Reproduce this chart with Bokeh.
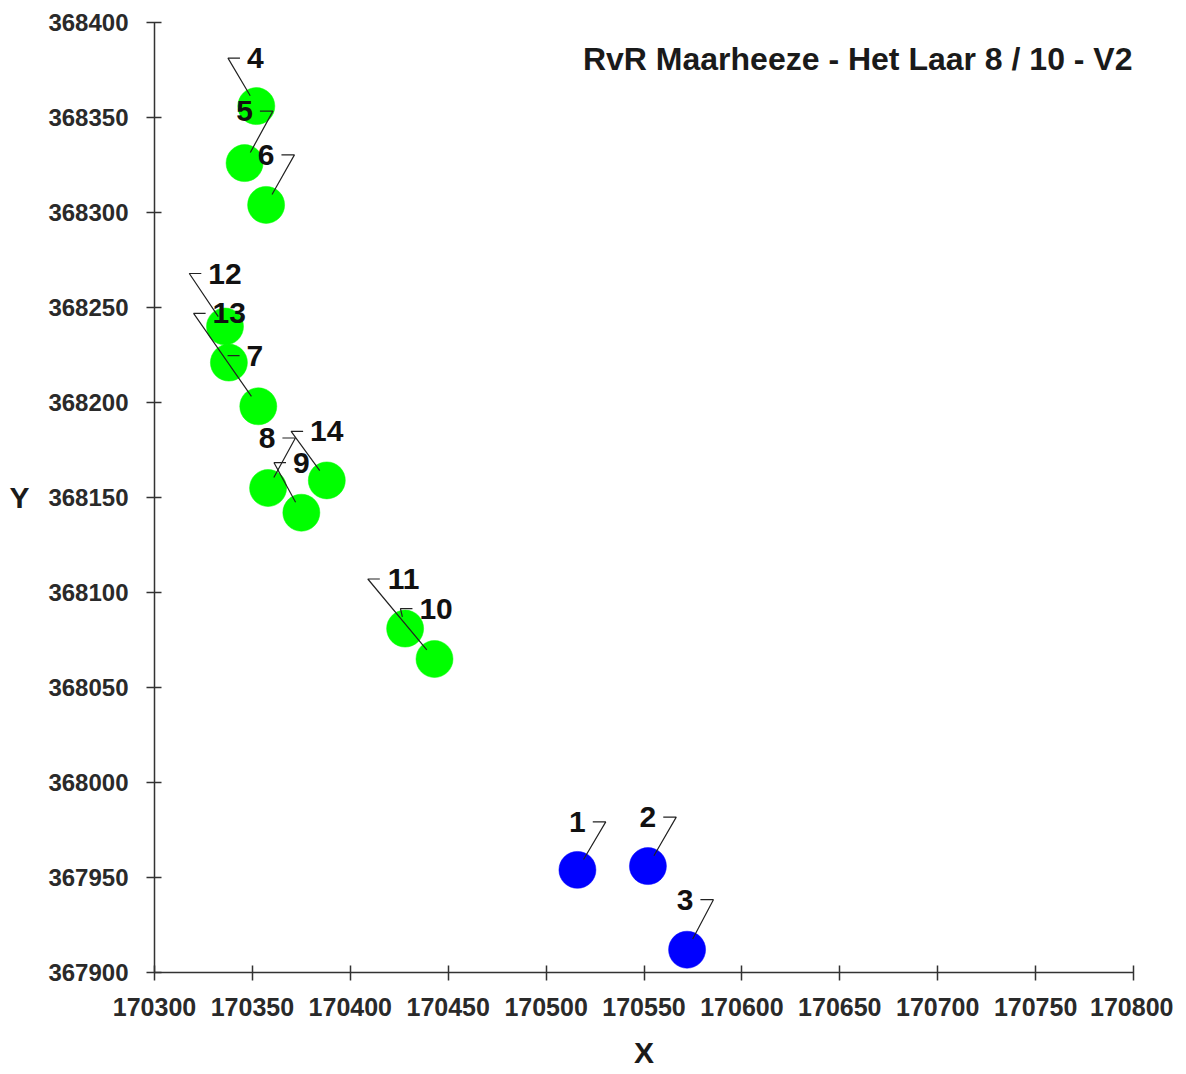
from bokeh.plotting import figure
from bokeh.models import Range1d, FixedTicker, Label, ColumnDataSource
from bokeh.core.properties import value
from bokeh.embed import file_html
from bokeh.resources import INLINE

# ---------------- data ----------------
title_text = "RvR Maarheeze - Het Laar 8 / 10 - V2"
x_axis_title = "X"
y_axis_title = "Y"

point_ids = ["1", "2", "3", "4", "5", "6", "7", "8", "9", "10", "11", "12", "13", "14"]
x_vals = [170516, 170552, 170572, 170352, 170346, 170357, 170338,
          170358, 170375, 170428, 170443, 170336, 170353, 170388]
y_vals = [367954, 367956, 367912, 368356, 368326, 368304, 368221,
          368155, 368142, 368081, 368065, 368240, 368198, 368159]
series = ["blue"] * 3 + ["green"] * 11

x_ticks = [170300, 170350, 170400, 170450, 170500, 170550, 170600, 170650, 170700, 170750, 170800]
y_ticks = [367900, 367950, 368000, 368050, 368100, 368150, 368200, 368250, 368300, 368350, 368400]
x_tick_labels = ["170300", "170350", "170400", "170450", "170500", "170550",
                 "170600", "170650", "170700", "170750", "170800"]
y_tick_labels = ["367900", "367950", "368000", "368050", "368100", "368150",
                 "368200", "368250", "368300", "368350", "368400"]

# ---------------- layout / style ----------------
X0, X1 = 170300, 170800
Y0, Y1 = 367900, 368400
FW, FH = 979, 950
SX = FW / (X1 - X0)
SY = FH / (Y1 - Y0)
BL, BR, BT, BB = 154, 40, 22, 98

series_colors = {"blue": "#0000ff", "green": "#00ff00"}
LABEL_FS = 30
# label placement: screen-pixel offset of text centre from its point, and leader side
label_dx = [0, 0, -2, -1, 0, 0, 26, -1, 0, 31, -31, 0, -29, 0]
label_dy = [-48, -49, -50, -48, -52, -50, -7, -50, -50, -20, -80, -53, -93, -49]
label_side = ["r", "r", "r", "l", "r", "r", "l", "r", "l", "l", "l", "l", "l", "l"]

p = figure(width=BL + FW + BR, height=BT + FH + BB,
           x_range=Range1d(X0, X1), y_range=Range1d(Y0, Y1),
           output_backend="svg", toolbar_location=None,
           min_border_left=BL, min_border_right=BR, min_border_top=BT, min_border_bottom=BB)
p.frame_width = FW
p.frame_height = FH
p.outline_line_color = None
p.xgrid.visible = False
p.ygrid.visible = False
p.background_fill_color = "white"
p.border_fill_color = "white"

for ax, ticks, labs in ((p.xaxis[0], x_ticks, x_tick_labels), (p.yaxis[0], y_ticks, y_tick_labels)):
    ax.ticker = FixedTicker(ticks=ticks)
    ax.major_label_overrides = {t: l for t, l in zip(ticks, labs)}
    ax.minor_tick_line_color = None
    ax.major_tick_in = 7
    ax.major_tick_out = 8
    ax.axis_line_color = "#333333"
    ax.axis_line_width = 1.5
    ax.major_tick_line_color = "#333333"
    ax.major_tick_line_width = 1.5
    ax.major_label_text_font = "Liberation Sans"
    ax.major_label_text_font_style = "bold"
    ax.major_label_text_color = "#2a2a2a"
    ax.axis_label_text_font = "Liberation Sans"
    ax.axis_label_text_font_style = "bold"
    ax.axis_label_text_font_size = "30px"
    ax.axis_label_text_color = "#1a1a1a"
p.xaxis[0].major_label_text_font_size = "25px"
p.yaxis[0].major_label_text_font_size = "24px"
p.xaxis[0].major_label_standoff = 17
p.yaxis[0].major_label_standoff = 18
p.xaxis[0].axis_label = x_axis_title
p.xaxis[0].axis_label_standoff = 17
p.yaxis[0].axis_label = y_axis_title
p.yaxis[0].axis_label_standoff = 16
if "axis_label_orientation" in p.yaxis[0].properties():
    p.yaxis[0].axis_label_orientation = "horizontal"

# points
src = ColumnDataSource(dict(x=x_vals, y=y_vals, c=[series_colors[s] for s in series]))
p.scatter("x", "y", source=src, size=37, fill_color="c", line_color="c", line_width=0.5)

# labels and leader lines
lx, ly, lxs, lys = [], [], [], []
for i, t in enumerate(point_ids):
    px = (x_vals[i] - X0) * SX
    py = (Y1 - y_vals[i]) * SY
    cx = px + label_dx[i]
    cy = py + label_dy[i]
    w = len(t) * 0.556 * LABEL_FS
    if label_side[i] == "r":
        a = cx + w / 2 + 7
        b = cx + w / 2 + 20
    else:
        a = cx - w / 2 - 7
        b = cx - w / 2 - 19
    ddx, ddy = px - b, py - cy
    d = (ddx ** 2 + ddy ** 2) ** 0.5
    k = max(d - 12, 0) / d if d > 0 else 0
    ex, ey = b + ddx * k, cy + ddy * k
    pts = [(a, cy), (b, cy), (ex, ey)]
    lxs.append([X0 + q[0] / SX for q in pts])
    lys.append([Y1 - q[1] / SY for q in pts])
    lx.append(X0 + cx / SX)
    ly.append(Y1 - cy / SY)

p.multi_line(lxs, lys, line_color="#222222", line_width=1.2)
p.text(lx, ly, text=point_ids, text_font=value("Liberation Sans"), text_font_style="bold",
       text_font_size=f"{LABEL_FS}px", text_align="center", text_baseline="middle",
       text_color="#111111")

# chart title inside the plot area
p.add_layout(Label(x=FW - 1, y=FH - 36, x_units="screen", y_units="screen", text=title_text,
                   text_font="Liberation Sans", text_font_style="bold", text_font_size="32px",
                   text_align="right", text_baseline="middle", text_color="#1a1a1a"))

open("out.html", "w").write(file_html(p, INLINE))
